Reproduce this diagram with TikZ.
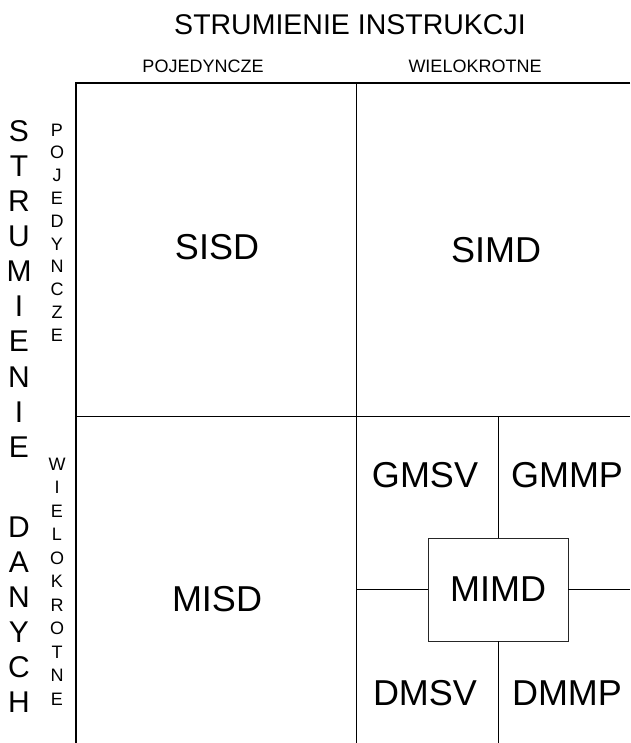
\documentclass[tikz,border=0pt]{standalone}
\usepackage{fontspec}
\setmainfont{Liberation Sans}
\begin{document}
\begin{tikzpicture}[x=1pt,y=-1pt,
  thinline/.style={line width=0.9pt},
  thickline/.style={line width=2.6pt,line join=miter},
  big/.style={font=\fontsize{36}{40}\selectfont,inner sep=0pt},
  title/.style={font=\fontsize{28.5}{32}\selectfont,inner sep=0pt},
  head/.style={font=\fontsize{18}{20}\selectfont,inner sep=0pt},
  bigletter/.style={font=\fontsize{30}{32}\selectfont,inner sep=0pt},
  smallletter/.style={font=\fontsize{18}{20}\selectfont,inner sep=0pt}]

\useasboundingbox (0,0) rectangle (630,743);

% Naglowki
\node[title] (instr) at (350,25) {STRUMIENIE INSTRUKCJI};
\node[head] (pojI) at (203,66) {POJEDYNCZE};
\node[head] (wielI) at (475,66) {WIELOKROTNE};

% Strumienie danych (pionowo)
\foreach \l [count=\i from 0] in {S,T,R,U,M,I,E,N,I,E}
  \node[bigletter] (su\i) at (19,131+35.1*\i) {\l};
\foreach \l [count=\i from 0] in {D,A,N,Y,C,H}
  \node[bigletter] (sd\i) at (19,527+35*\i) {\l};
\foreach \l [count=\i from 0] in {P,O,J,E,D,Y,N,C,Z,E}
  \node[smallletter] (pd\i) at (57,130+22.8*\i) {\l};
\foreach \l [count=\i from 0] in {W,I,E,L,O,K,R,O,T,N,E}
  \node[smallletter] (wd\i) at (57,464+23.5*\i) {\l};

% Siatka
\coordinate (tl) at (76,83);
\coordinate (tr) at (630,83);
\coordinate (bl) at (76,743);
\coordinate (midtop) at (356,83);
\coordinate (midbot) at (356,743);
\coordinate (ml) at (76,416);
\coordinate (mr) at (630,416);

\draw[thickline] (tr) -- (tl) -- (bl);
\draw[thinline] (midtop) -- (midbot);
\draw[thinline] (ml) -- (mr);

% Klasy
\node[big] (sisd) at (217,247) {SISD};
\node[big] (simd) at (496,250) {SIMD};
\node[big] (misd) at (217,599) {MISD};
\node[big] (gmsv) at (425,475) {GMSV};
\node[big] (gmmp) at (567,475) {GMMP};
\node[big] (dmsv) at (425,693) {DMSV};
\node[big] (dmmp) at (567,693) {DMMP};

% MIMD
\node[big,draw=black!85,line width=0.8pt,minimum width=140pt,minimum height=103pt]
  (mimd) at (498,589.5) {MIMD};
\draw[thinline] (mimd.north) -- (mimd.north |- ml);
\draw[thinline] (mimd.south) -- (mimd.south |- midbot);
\draw[thinline] (mimd.west) -- (mimd.west -| midtop);
\draw[thinline] (mimd.east) -- (mimd.east -| tr);

\end{tikzpicture}
\end{document}
